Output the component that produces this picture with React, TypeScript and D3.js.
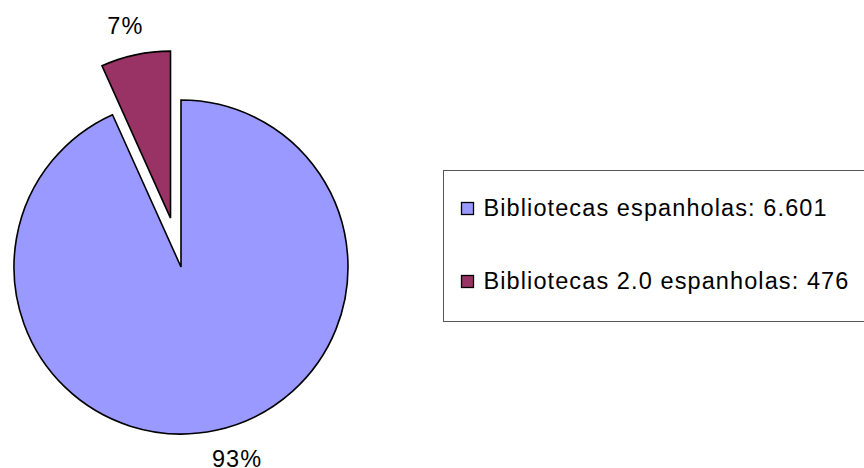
import { useEffect, useRef } from 'react'
import * as d3 from 'd3'

const categories = ['Bibliotecas espanholas', 'Bibliotecas 2.0 espanholas']
const valueLabels = ['6.601', '476']
const values = [6601, 476]
const colors = ['#9999ff', '#993366']

const W = 864
const H = 468

export default function App() {
  const svgRef = useRef<SVGSVGElement>(null)

  useEffect(() => {
    if (!svgRef.current) return
    const svg = d3.select(svgRef.current)
    svg.selectAll('*').remove()

    const cx = 181
    const cy = 267
    const r = 167
    const explode = 50
    const font = 'Arial, "Liberation Sans", sans-serif'
    const fontSize = 23.5
    const spacing = 1.1

    const total = d3.sum(values)
    // big slice starts at 12 o'clock and runs clockwise; the small one closes the circle
    const pie = d3.pie<number>().sort(null).startAngle(0).endAngle(2 * Math.PI)
    const arcs = pie(values)
    const arc = d3.arc<d3.PieArcDatum<number>>().innerRadius(0).outerRadius(r)

    const g = svg.append('g').attr('transform', `translate(${cx},${cy})`)

    arcs.forEach((a, i) => {
      const mid = (a.startAngle + a.endAngle) / 2
      const d = i === 1 ? explode : 0
      const ox = Math.sin(mid) * d
      const oy = -Math.cos(mid) * d
      const sg = g.append('g').attr('transform', `translate(${ox},${oy})`)
      sg.append('path')
        .attr('d', arc(a) || '')
        .attr('fill', colors[i])
        .attr('stroke', '#000')
        .attr('stroke-width', 1.6)
        .attr('stroke-linejoin', 'miter')

      // label sits just outside the rim, a bit pushed sideways like Excel does
      const lr = 196
      const nudge = i === 0 ? 15 : -4
      sg.append('text')
        .attr('x', Math.sin(mid) * lr + nudge)
        .attr('y', -Math.cos(mid) * lr + 8)
        .attr('text-anchor', 'middle')
        .attr('font-family', font)
        .attr('font-size', fontSize)
        .attr('letter-spacing', spacing)
        .attr('fill', '#000')
        .text(`${Math.round((a.data / total) * 100)}%`)
    })

    // legend
    const lg = svg.append('g')
    lg.append('rect')
      .attr('x', 443.5)
      .attr('y', 170.5)
      .attr('width', 440)
      .attr('height', 151)
      .attr('fill', '#fff')
      .attr('stroke', '#555')
      .attr('stroke-width', 1)

    const ly = d3.scalePoint<string>().domain(categories).range([216, 289])
    categories.forEach((c, i) => {
      const y = ly(c) as number
      lg.append('rect')
        .attr('x', 461.5)
        .attr('y', y - 13.5)
        .attr('width', 12)
        .attr('height', 12)
        .attr('fill', colors[i])
        .attr('stroke', '#000')
        .attr('stroke-width', 1.3)
      lg.append('text')
        .attr('x', 483.5)
        .attr('y', y)
        .attr('font-family', font)
        .attr('font-size', fontSize)
        .attr('letter-spacing', spacing)
        .attr('fill', '#000')
        .text(`${c}: ${valueLabels[i]}`)
    })
  }, [])

  return (
    <svg
      ref={svgRef}
      width={W}
      height={H}
      style={{ position: 'absolute', left: 0, top: 0, background: '#fff' }}
    />
  )
}
